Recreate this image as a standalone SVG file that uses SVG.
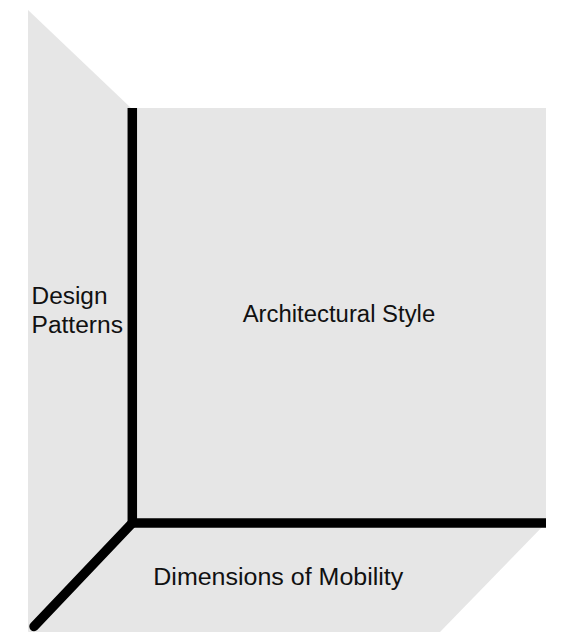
<svg xmlns="http://www.w3.org/2000/svg" width="567" height="635" viewBox="0 0 567 635">
<style>
.panel{fill:#e6e6e6;stroke:none}
.axis{stroke:#000;stroke-width:9.5;fill:none}
.lbl{font-family:"Liberation Sans",Arial,Helvetica,sans-serif;font-size:23.5px;fill:#111}
</style>
<rect width="567" height="635" fill="#fff"/>
<g id="left-panel">
<polygon class="panel" points="28,10 131,108 132,523 28,632"/>
<text class="lbl" x="31.5" y="304" textLength="76" lengthAdjust="spacingAndGlyphs">Design</text>
<text class="lbl" x="31.5" y="333" textLength="91.5" lengthAdjust="spacingAndGlyphs">Patterns</text>
</g>
<g id="main-panel">
<rect class="panel" x="132" y="108" width="414" height="415"/>
<text class="lbl" x="242.7" y="322.3" textLength="192.5" lengthAdjust="spacingAndGlyphs">Architectural Style</text>
</g>
<g id="bottom-panel">
<polygon class="panel" points="132,523 546,523 440,632 28,632"/>
<text class="lbl" x="153.3" y="585" textLength="250" lengthAdjust="spacingAndGlyphs">Dimensions of Mobility</text>
</g>
<g id="connectors">
<line class="axis" x1="132.3" y1="108" x2="132.3" y2="523"/>
<line class="axis" x1="132.3" y1="523" x2="546" y2="523"/>
<line class="axis" x1="132.3" y1="523" x2="34" y2="626.5" stroke-linecap="round"/>
</g>
</svg>
